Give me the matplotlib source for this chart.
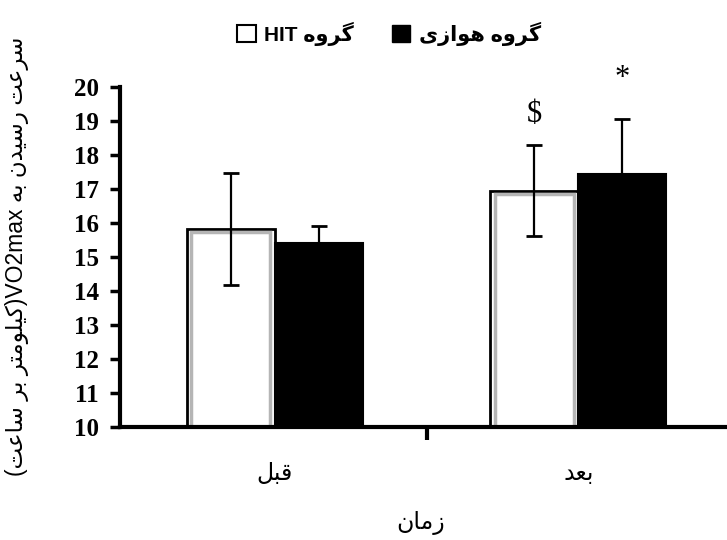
import re
import numpy as np
import matplotlib
matplotlib.use('Agg')
import matplotlib.pyplot as plt
from matplotlib.patches import Patch

# data
categories = ['قبل', 'بعد']
hit_mean = [15.83, 16.95]
hit_sd = [1.64, 1.34]
aer_mean = [15.40, 17.43]
aer_sd = [0.52, 1.63]
series_labels = ['گروه HIT', 'گروه هوازی']
y_label = 'سرعت رسیدن به VO2max(کیلومتر بر ساعت)'
x_label = 'زمان'
y_ticks = list(range(10, 21))

# matplotlib has no Arabic shaping, so pick presentation forms by hand
# (isolated, final, initial, medial); None = letter does not join forward
FORMS = {
    'ا': ('\ufe8d', '\ufe8e', None, None),
    'ب': ('\ufe8f', '\ufe90', '\ufe91', '\ufe92'),
    'ت': ('\ufe95', '\ufe96', '\ufe97', '\ufe98'),
    'د': ('\ufea9', '\ufeaa', None, None),
    'ر': ('\ufead', '\ufeae', None, None),
    'ز': ('\ufeaf', '\ufeb0', None, None),
    'س': ('\ufeb1', '\ufeb2', '\ufeb3', '\ufeb4'),
    'ع': ('\ufec9', '\ufeca', '\ufecb', '\ufecc'),
    'ق': ('\ufed5', '\ufed6', '\ufed7', '\ufed8'),
    'ل': ('\ufedd', '\ufede', '\ufedf', '\ufee0'),
    'م': ('\ufee1', '\ufee2', '\ufee3', '\ufee4'),
    'ن': ('\ufee5', '\ufee6', '\ufee7', '\ufee8'),
    'ه': ('\ufee9', '\ufeea', '\ufeeb', '\ufeec'),
    'و': ('\ufeed', '\ufeee', None, None),
    'ک': ('\ufb8e', '\ufb8f', '\ufb90', '\ufb91'),
    'گ': ('\ufb92', '\ufb93', '\ufb94', '\ufb95'),
    'ی': ('\ufbfc', '\ufbfd', '\ufbfe', '\ufbff'),
}


def fa(text):
    shaped = []
    for i, c in enumerate(text):
        if c not in FORMS:
            shaped.append(c)
            continue
        prev = text[i - 1] if i > 0 else ''
        nxt = text[i + 1] if i + 1 < len(text) else ''
        join_prev = prev in FORMS and FORMS[prev][2] is not None
        join_next = nxt in FORMS and FORMS[c][2] is not None
        iso, fin, ini, med = FORMS[c]
        if join_prev and join_next:
            shaped.append(med)
        elif join_prev:
            shaped.append(fin)
        elif join_next:
            shaped.append(ini)
        else:
            shaped.append(iso)
    shaped = ''.join(shaped)
    # right-to-left: reverse the runs, keep latin/digit runs as they are
    runs = re.findall(r'[A-Za-z0-9]+|[^A-Za-z0-9]+', shaped)
    mirror = {'(': ')', ')': '('}
    out = []
    for r in reversed(runs):
        if re.match(r'[A-Za-z0-9]', r):
            out.append(r)
        else:
            out.append(''.join(mirror.get(c, c) for c in reversed(r)))
    return ''.join(out)


plt.rcParams['font.family'] = ['Liberation Sans', 'DejaVu Sans']

fig = plt.figure(figsize=(7.27, 5.4), dpi=100)
ax = fig.add_axes([0.165, 0.209, 0.835, 0.63])

x = np.arange(len(categories))
w = 0.29

ax.bar(x - w / 2, hit_mean, w, color='white', edgecolor='black', linewidth=2, zorder=2)
# grey bevel inside the white bars
ax.bar(x - w / 2, np.array(hit_mean) - 0.1, w * 0.9, fill=False,
       edgecolor='#b5b5b5', linewidth=2.5, zorder=2)
ax.bar(x + w / 2, aer_mean, w, color='black', edgecolor='black', linewidth=1.5, zorder=2)

ax.errorbar(x - w / 2, hit_mean, yerr=hit_sd, fmt='none', ecolor='black',
            elinewidth=1.6, capsize=6, capthick=2, zorder=3)
ax.errorbar(x + w / 2, aer_mean, yerr=aer_sd, fmt='none', ecolor='black',
            elinewidth=1.6, capsize=6, capthick=2, zorder=3)

# significance marks above the "after" bars
ax.text(x[1] - w / 2, hit_mean[1] + hit_sd[1] + 0.9, '\\$', ha='center', va='center',
        fontsize=22, family='Liberation Serif', clip_on=False)
ax.text(x[1] + w / 2, aer_mean[1] + aer_sd[1] + 1.2, '*', ha='center', va='center',
        fontsize=22, family='Liberation Serif', clip_on=False)

ax.set_ylim(10, 20)
ax.set_xlim(-0.51, 1.49)
ax.set_yticks(y_ticks)
ax.set_yticklabels([str(t) for t in y_ticks], family='Liberation Serif',
                   fontweight='bold', fontsize=18)
ax.tick_params(axis='y', direction='out', length=7, width=2.5, pad=8)

# one tick between the groups, group names without ticks
ax.set_xticks([0.5])
ax.set_xticklabels([''])
ax.tick_params(axis='x', which='major', direction='out', length=9, width=3)
ax.set_xticks(x, minor=True)
ax.set_xticklabels([fa(c) for c in categories], minor=True, fontsize=17)
ax.tick_params(axis='x', which='minor', length=0, pad=26)

for s in ['top', 'right']:
    ax.spines[s].set_visible(False)
ax.spines['left'].set_linewidth(3)
ax.spines['bottom'].set_linewidth(3)

fig.text(0.578, 0.01, fa(x_label), ha='center', va='bottom', fontsize=17)
fig.text(0.024, 0.525, fa(y_label), rotation=90, ha='center', va='center', fontsize=16.5)

handles = [Patch(facecolor='white', edgecolor='black', linewidth=1.5),
           Patch(facecolor='black', edgecolor='black')]
fig.legend(handles, [fa(s) for s in series_labels], loc='upper center',
           bbox_to_anchor=(0.535, 0.995), ncol=2, frameon=False,
           prop={'size': 15, 'weight': 'bold'}, handlelength=0.9, handleheight=0.9,
           handletextpad=0.4, columnspacing=1.8)

fig.savefig('out.png', dpi=100)
